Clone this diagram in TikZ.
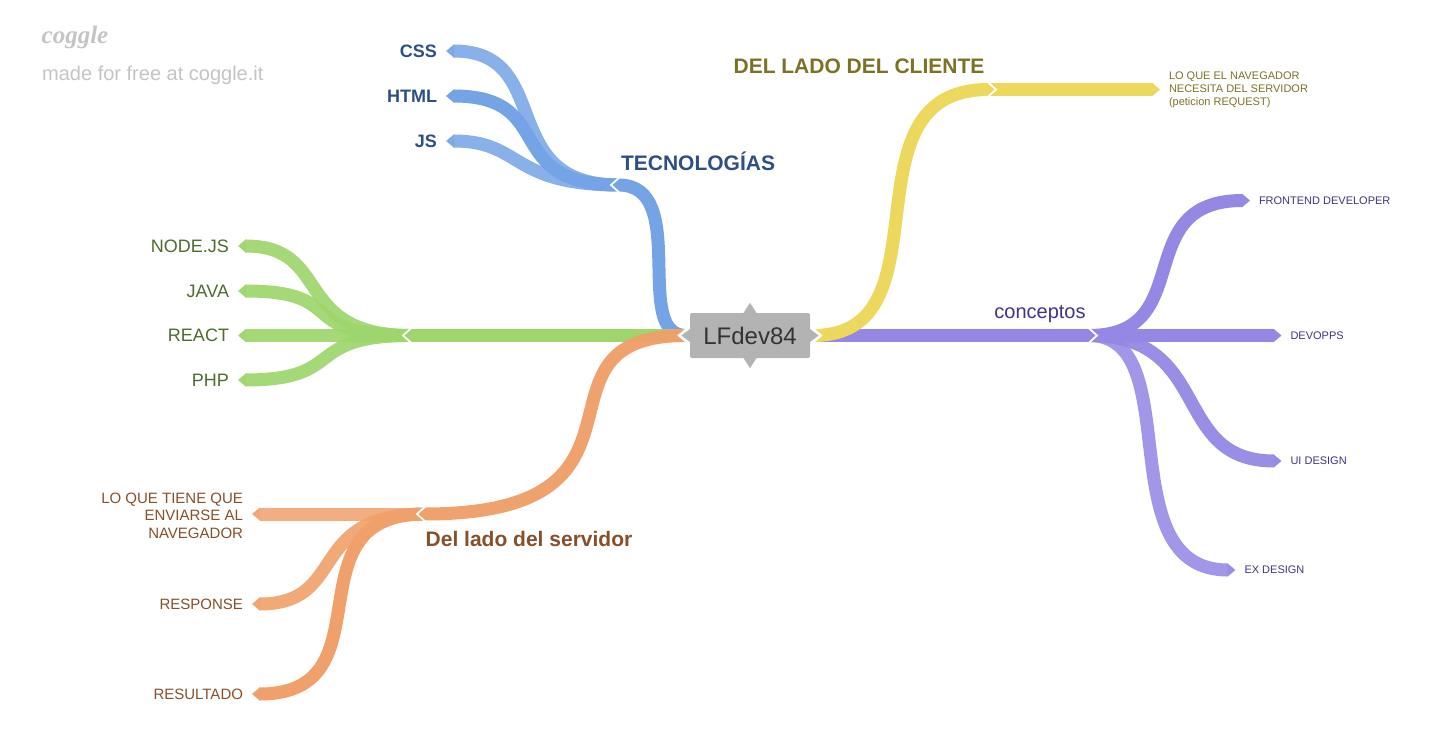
\documentclass[tikz,border=0pt]{standalone}
\usepackage{fontspec}
\setmainfont{Liberation Sans}
\newfontfamily\logofont{Liberation Serif}
\usepackage{tikz}
\usetikzlibrary{positioning, arrows.meta}
\definecolor{rootgray}{HTML}{B3B3B3}
\definecolor{tecblue}{HTML}{74A3E6}
\definecolor{tectext}{HTML}{2D4F86}
\definecolor{backgreen}{HTML}{9ED56C}
\definecolor{backtext}{HTML}{4E6B2F}
\definecolor{servorange}{HTML}{F0A06A}
\definecolor{servtext}{HTML}{86502B}
\definecolor{cliyellow}{HTML}{ECD85C}
\definecolor{clitext}{HTML}{7C7226}
\definecolor{conpurple}{HTML}{9488E4}
\definecolor{context}{HTML}{3F3488}
\definecolor{logogray}{HTML}{C4C4C4}
\newcommand{\px}[1]{\fontsize{#1}{#1}\selectfont}

\begin{document}
\begin{tikzpicture}[
        x=1pt, y=-1pt,
        branch/.style={line width=13pt, -{Triangle[length=8pt, width=13pt]}},
        lab/.style={inner sep=0pt, outer sep=9pt},
        lableft/.style={lab, anchor=east, align=right},
        labright/.style={lab, anchor=west, align=left},
        title/.style={inner sep=0pt, font=\px{21}\bfseries},
        notch/.pic={\draw[white, line width=1.8pt] (-8,-7.2) -- (0,0) -- (-8,7.2);},
        rootnub/.pic={
            \fill[white] (3,-8) -- (12.5,0) -- (3,8) -- cycle;
            \fill[rootgray] (-1,-7) -- (8.5,0) -- (-1,7) -- cycle;
        },
    ]

    \path[use as bounding box, fill=white] (0,0) rectangle (1430,749);

    % logo
    \node[inner sep=0pt, text=logogray, font=\px{25}\logofont\itshape\bfseries] (logo) at (75,37) {coggle};
    \node[inner sep=0pt, anchor=west, text=logogray, font=\px{20}] (made) at (42,75) {made for free at coggle.it};

    \node[fill=rootgray, rounded corners=2pt, minimum width=120pt, minimum height=45pt, inner sep=0pt,
        text=black!80, font=\px{24}] (root) at (750,335.5) {LFdev84};

    \coordinate (rootleft) at (686,335.5);
    \coordinate (rootright) at (813,335.5);

    % blue
    \coordinate (tecjoin) at (611,185);
    \coordinate (tecroot) at (619,185);
    \node[lableft, text=tectext, font=\px{18}\bfseries] (css) at (446,51) {CSS};
    \node[lableft, text=tectext, font=\px{18}\bfseries] (html) at (446,96) {HTML};
    \node[lableft, text=tectext, font=\px{18}\bfseries] (js) at (446,141) {JS};
    \node[title, text=tectext] (tec) at (698,161.5) {TECNOLOGÍAS};

    \draw[branch, tecblue, opacity=.85] (tecroot) .. controls +(-125,0) and +(110,0) .. (css.east);
    \draw[branch, tecblue] (tecroot) .. controls +(-120,0) and +(113,0) .. (html.east);
    \draw[branch, tecblue, opacity=.85] (tecroot) .. controls +(-110,0) and +(77,0) .. (js.east);
    \draw[branch, tecblue] (rootleft) .. controls +(-55,0) and +(80,0) .. (tecjoin);

    % green
    \coordinate (backjoin) at (403,335.5);
    \coordinate (backroot) at (411,335.5);
    \node[lableft, text=backtext, font=\px{18}] (node) at (238,246) {NODE.JS};
    \node[lableft, text=backtext, font=\px{18}] (java) at (238,291) {JAVA};
    \node[lableft, text=backtext, font=\px{18}] (react) at (238,335.5) {REACT};
    \node[lableft, text=backtext, font=\px{18}] (php) at (238,380) {PHP};

    \draw[branch, backgreen, opacity=.92] (backroot) .. controls +(-120,0) and +(95,0) .. (node.east);
    \draw[branch, backgreen, opacity=.92] (backroot) .. controls +(-120,0) and +(113,0) .. (java.east);
    \draw[branch, backgreen, opacity=.92] (backroot) -- (react.east);
    \draw[branch, backgreen, opacity=.92] (backroot) .. controls +(-110,0) and +(110,0) .. (php.east);
    \draw[branch, backgreen] (rootleft) -- (backjoin);

    % orange
    \coordinate (servjoin) at (417,514);
    \coordinate (servroot) at (425,514);
    \node[lableft, text=servtext, font=\px{15}, execute at begin node={\setlength{\baselineskip}{17.5pt}}] (tiene) at (252,515.5) {LO QUE TIENE QUE\\ENVIARSE AL\\NAVEGADOR};
    \node[lableft, text=servtext, font=\px{15}] (response) at (252,604) {RESPONSE};
    \node[lableft, text=servtext, font=\px{15}] (resultado) at (252,694) {RESULTADO};
    \node[title, text=servtext] (servlab) at (529,539) {Del lado del servidor};

    \draw[branch, servorange, opacity=.85] (servroot) -- (servroot -| tiene.east);
    \draw[branch, servorange, opacity=.9] (servroot) .. controls +(-120,0) and +(97,0) .. (response.east);
    \draw[branch, servorange] (servroot) .. controls +(-140,0) and +(140,0) .. (resultado.east);
    \draw[branch, servorange, opacity=.97] (rootleft) .. controls +(-170,0) and +(262,0) .. (servjoin);

    % purple
    \coordinate (conjoin) at (1097,335.5);
    \coordinate (conroot) at (1089,335.5);
    \node[labright, text=context, font=\px{11}] (front) at (1250,200.5) {FRONTEND DEVELOPER};
    \node[labright, text=context, font=\px{11}] (devops) at (1281.5,335.5) {DEVOPPS};
    \node[labright, text=context, font=\px{11}] (uides) at (1281.5,461) {UI DESIGN};
    \node[labright, text=context, font=\px{11}] (exdes) at (1235.5,570) {EX DESIGN};
    \node[inner sep=0pt, text=context, font=\px{20}] (concept) at (1040,314) {conceptos};

    \draw[branch, conpurple] (conroot) .. controls +(110,0) and +(-122,0) .. (front.west);
    \draw[branch, conpurple] (conroot) -- (devops.west);
    \draw[branch, conpurple, opacity=.95] (conroot) .. controls +(125,0) and +(-112,0) .. (uides.west);
    \draw[branch, conpurple, opacity=.88] (conroot) .. controls +(100,0) and +(-129,0) .. (exdes.west);
    \draw[branch, conpurple] (rootright) -- (conjoin);

    % yellow
    \coordinate (clijoin) at (996,89.5);
    \coordinate (cliroot) at (988,89.5);
    \node[labright, text=clitext, font=\px{11}, execute at begin node={\setlength{\baselineskip}{13.3pt}}] (nav) at (1160,90) {LO QUE EL NAVEGADOR\\NECESITA DEL SERVIDOR\\(peticion REQUEST)};
    \node[title, text=clitext] (clilab) at (859,66) {DEL LADO DEL CLIENTE};

    \draw[branch, cliyellow] (cliroot) -- (cliroot -| nav.west);
    \draw[branch, cliyellow] (rootright) .. controls +(140,0) and +(-158,0) .. (clijoin);

    % root points
    \fill[rootgray] (root.north) +(-7,1) -- +(0,-10) -- +(7,1) -- cycle;
    \fill[rootgray] (root.south) +(-7,-1) -- +(0,10) -- +(7,-1) -- cycle;
    \pic at (root.east) {rootnub};
    \pic[rotate=180] at (root.west) {rootnub};

    \foreach \spot/\ang in {tecjoin/180, backjoin/180, servjoin/180, conjoin/0, clijoin/0}
        \pic[rotate=\ang] at (\spot) {notch};

\end{tikzpicture}
\end{document}
